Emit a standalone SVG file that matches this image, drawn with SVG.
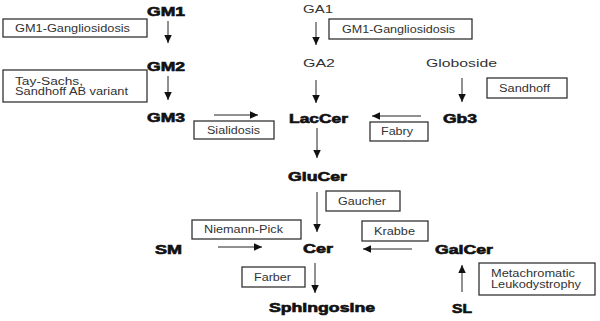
<svg xmlns="http://www.w3.org/2000/svg" width="600" height="321" viewBox="0 0 600 321">
<defs>
<marker id="ah" markerUnits="userSpaceOnUse" markerWidth="9" markerHeight="9" refX="8" refY="3.75" orient="auto">
<path d="M0,0 L8,3.75 L0,7.5 z" fill="#111"/>
</marker>
<style>
.b{font-family:"Liberation Sans",Arial,sans-serif;font-weight:bold;font-size:12px;fill:#111;stroke:#111;stroke-width:0.6}
.r{font-family:"Liberation Sans",Arial,sans-serif;font-size:11.5px;fill:#333}
.t{font-family:"Liberation Sans",Arial,sans-serif;font-size:10px;fill:#333}
.box{fill:#fff;stroke:#333;stroke-width:1.3}
.c{stroke:#222;stroke-width:1;fill:none;marker-end:url(#ah)}
</style>
</defs>
<rect width="600" height="321" fill="#fff"/>
<g id="connectors">
<line class="c" x1="168" y1="21" x2="168" y2="43"/>
<line class="c" x1="168" y1="76" x2="168" y2="100"/>
<line class="c" x1="316" y1="22" x2="316" y2="45"/>
<line class="c" x1="316" y1="80" x2="316" y2="103"/>
<line class="c" x1="462" y1="78" x2="462" y2="102"/>
<line class="c" x1="214" y1="115" x2="258" y2="115"/>
<line class="c" x1="421" y1="116" x2="372" y2="116"/>
<line class="c" x1="317" y1="128" x2="317" y2="158"/>
<line class="c" x1="317" y1="192" x2="317" y2="232"/>
<line class="c" x1="218" y1="247" x2="262" y2="247"/>
<line class="c" x1="412" y1="249" x2="363" y2="249"/>
<line class="c" x1="315" y1="263" x2="315" y2="293"/>
<line class="c" x1="462" y1="292" x2="462" y2="265"/>
</g>
<g id="GM1"><text class="b" x="147" y="16" textLength="38" lengthAdjust="spacingAndGlyphs">GM1</text></g>
<g id="GM2"><text class="b" x="147" y="71" textLength="38" lengthAdjust="spacingAndGlyphs">GM2</text></g>
<g id="GM3"><text class="b" x="147" y="122" textLength="38" lengthAdjust="spacingAndGlyphs">GM3</text></g>
<g id="GA1"><text class="r" x="303" y="13" textLength="30" lengthAdjust="spacingAndGlyphs">GA1</text></g>
<g id="GA2"><text class="r" x="303" y="67" textLength="32" lengthAdjust="spacingAndGlyphs">GA2</text></g>
<g id="Globoside"><text class="r" x="426" y="67" textLength="71" lengthAdjust="spacingAndGlyphs">Globoside</text></g>
<g id="LacCer"><text class="b" x="289" y="123" textLength="59" lengthAdjust="spacingAndGlyphs">LacCer</text></g>
<g id="Gb3"><text class="b" x="443" y="123" textLength="34" lengthAdjust="spacingAndGlyphs">Gb3</text></g>
<g id="GluCer"><text class="b" x="288" y="181" textLength="59" lengthAdjust="spacingAndGlyphs">GluCer</text></g>
<g id="SM"><text class="b" x="155" y="254" textLength="27" lengthAdjust="spacingAndGlyphs">SM</text></g>
<g id="Cer"><text class="b" x="303" y="253" textLength="30" lengthAdjust="spacingAndGlyphs">Cer</text></g>
<g id="GalCer"><text class="b" x="435" y="254" textLength="58" lengthAdjust="spacingAndGlyphs">GalCer</text></g>
<g id="Sphingosine"><text class="b" x="269" y="312" textLength="106" lengthAdjust="spacingAndGlyphs">Sphingosine</text></g>
<g id="SL"><text class="b" x="452" y="313" textLength="20" lengthAdjust="spacingAndGlyphs">SL</text></g>
<g id="box-gm1-left"><rect class="box" x="3" y="19" width="144" height="18"/><text class="t" x="15" y="32" textLength="115" lengthAdjust="spacingAndGlyphs">GM1-Gangliosidosis</text></g>
<g id="box-taysachs"><rect class="box" x="3" y="70" width="144" height="32"/><text class="t" x="15" y="85" textLength="68" lengthAdjust="spacingAndGlyphs">Tay-Sachs,</text><text class="t" x="15" y="95" textLength="113" lengthAdjust="spacingAndGlyphs">Sandhoff AB variant</text></g>
<g id="box-gm1-right"><rect class="box" x="329" y="19" width="143" height="20"/><text class="t" x="342" y="33" textLength="113" lengthAdjust="spacingAndGlyphs">GM1-Gangliosidosis</text></g>
<g id="box-sandhoff"><rect class="box" x="487" y="78" width="80" height="20"/><text class="t" x="499" y="92" textLength="51" lengthAdjust="spacingAndGlyphs">Sandhoff</text></g>
<g id="box-sialidosis"><rect class="box" x="194" y="121" width="80" height="18"/><text class="t" x="207" y="134" textLength="53" lengthAdjust="spacingAndGlyphs">Sialidosis</text></g>
<g id="box-fabry"><rect class="box" x="370" y="122" width="58" height="19"/><text class="t" x="381" y="135" textLength="32" lengthAdjust="spacingAndGlyphs">Fabry</text></g>
<g id="box-gaucher"><rect class="box" x="326" y="191" width="74" height="20"/><text class="t" x="338" y="205" textLength="48" lengthAdjust="spacingAndGlyphs">Gaucher</text></g>
<g id="box-niemann"><rect class="box" x="192" y="220" width="109" height="19"/><text class="t" x="204" y="233" textLength="79" lengthAdjust="spacingAndGlyphs">Niemann-Pick</text></g>
<g id="box-krabbe"><rect class="box" x="362" y="221" width="66" height="20"/><text class="t" x="374" y="235" textLength="41" lengthAdjust="spacingAndGlyphs">Krabbe</text></g>
<g id="box-farber"><rect class="box" x="242" y="267" width="63" height="20"/><text class="t" x="254" y="281" textLength="37" lengthAdjust="spacingAndGlyphs">Farber</text></g>
<g id="box-mld"><rect class="box" x="479" y="263" width="116" height="32"/><text class="t" x="491" y="277" textLength="84" lengthAdjust="spacingAndGlyphs">Metachromatic</text><text class="t" x="491" y="288" textLength="90" lengthAdjust="spacingAndGlyphs">Leukodystrophy</text></g>
</svg>
